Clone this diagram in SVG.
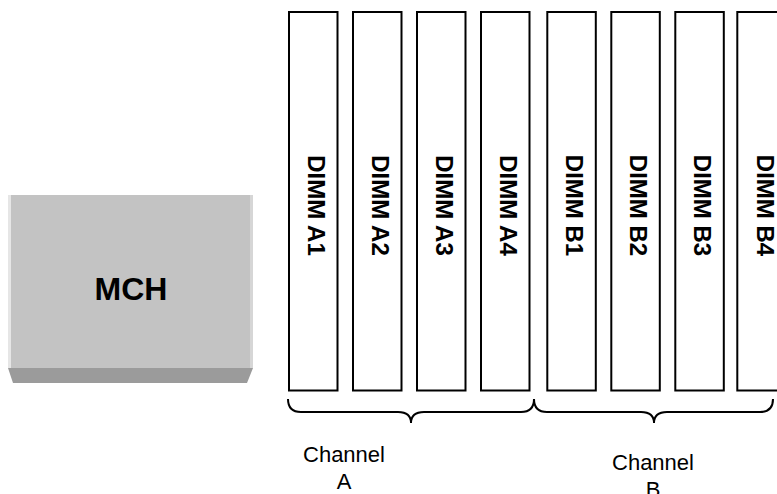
<svg xmlns="http://www.w3.org/2000/svg" width="777" height="494" viewBox="0 0 777 494">
<style>
.dimm{fill:#fff;stroke:#000;stroke-width:2}
.dl{font-family:"Liberation Sans",Arial,sans-serif;font-weight:bold;font-size:24px;text-anchor:middle;fill:#000}
.ch{font-family:"Liberation Sans",Arial,sans-serif;font-size:22px;text-anchor:middle;fill:#000}
.brace{fill:none;stroke:#000;stroke-width:2}
</style>
<rect width="777" height="494" fill="#fff"/>
<g id="mch">
<rect x="8" y="195" width="245" height="173" fill="#c3c3c3"/>
<rect x="8" y="195" width="3" height="173" fill="#e6e6e6"/>
<rect x="250" y="195" width="3" height="173" fill="#d6d6d6"/>
<polygon points="8,368 253,368 247,383 13,383" fill="#9b9b9b"/>
<text x="131" y="300" font-family="Liberation Sans,Arial,sans-serif" font-weight="bold" font-size="32" text-anchor="middle">MCH</text>
</g>
<g id="dimm-a1"><rect class="dimm" x="289" y="12" width="48.5" height="378.5"/><text class="dl" transform="translate(308,205.5) rotate(90)">DIMM A1</text></g>
<g id="dimm-a2"><rect class="dimm" x="353" y="12" width="48.5" height="378.5"/><text class="dl" transform="translate(372,205.5) rotate(90)">DIMM A2</text></g>
<g id="dimm-a3"><rect class="dimm" x="417" y="12" width="48.5" height="378.5"/><text class="dl" transform="translate(436,205.5) rotate(90)">DIMM A3</text></g>
<g id="dimm-a4"><rect class="dimm" x="481" y="12" width="48.5" height="378.5"/><text class="dl" transform="translate(500,205.5) rotate(90)">DIMM A4</text></g>
<g id="dimm-b1"><rect class="dimm" x="547.3" y="12" width="48.5" height="378.5"/><text class="dl" transform="translate(566,205.5) rotate(90)">DIMM B1</text></g>
<g id="dimm-b2"><rect class="dimm" x="611.3" y="12" width="48.5" height="378.5"/><text class="dl" transform="translate(630,205.5) rotate(90)">DIMM B2</text></g>
<g id="dimm-b3"><rect class="dimm" x="675.3" y="12" width="48.5" height="378.5"/><text class="dl" transform="translate(694,205.5) rotate(90)">DIMM B3</text></g>
<g id="dimm-b4"><rect class="dimm" x="737.3" y="12" width="60" height="378.5"/><text class="dl" transform="translate(756.5,205.5) rotate(90)">DIMM B4</text></g>
<g id="connectors">
<path class="brace" d="M288,399 Q288,412 301,412 L398,412 Q411,412 411,423 Q411,412 424,412 L521,412 Q534,412 534,399"/>
<path class="brace" d="M534,399 Q534,412 547,412 L641,412 Q654,412 654,423 Q654,412 667,412 L760,412 Q773,412 773,399"/>
</g>
<g id="channel-a"><text class="ch" x="344" y="462">Channel</text><text class="ch" x="344" y="489">A</text></g>
<g id="channel-b"><text class="ch" x="653" y="470">Channel</text><text class="ch" x="653" y="497">B</text></g>
</svg>
